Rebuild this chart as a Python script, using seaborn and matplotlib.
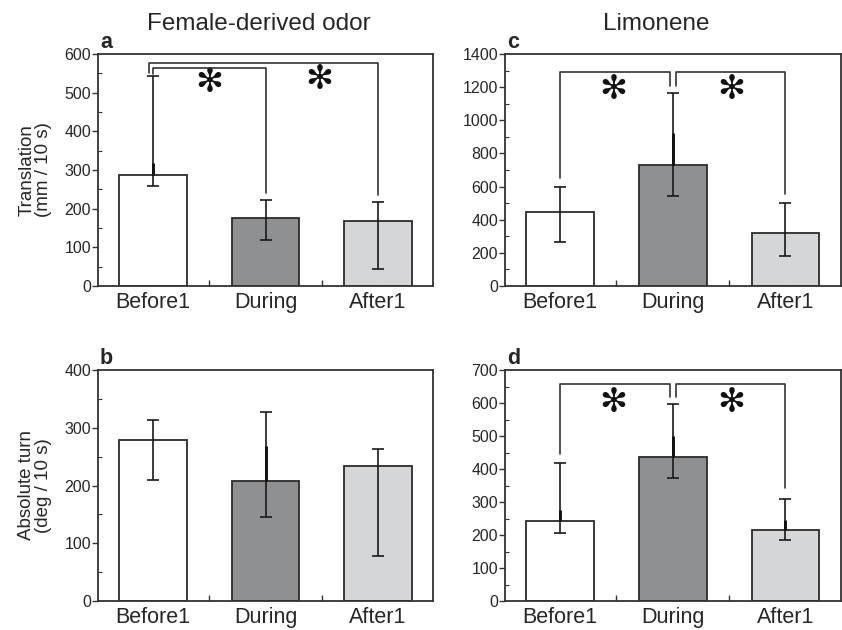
import matplotlib
matplotlib.use("Agg")
import matplotlib.pyplot as plt
import seaborn as sns
import numpy as np
import pandas as pd
from matplotlib.ticker import MultipleLocator

sns.set_theme(style="ticks")
plt.rcParams['font.family'] = ['Liberation Sans', 'DejaVu Sans']

categories = ["Before1", "During", "After1"]
bar_colors = ["#ffffff", "#8f9092", "#d5d6d8"]

# panel a: Translation, female-derived odor
a_vals = [287, 177, 168]
a_low = [259, 120, 43]
a_high = [543, 223, 217]
a_thick = [317, 177, 168]

# panel b: Absolute turn, female-derived odor
b_vals = [279, 207, 233]
b_low = [210, 146, 78]
b_high = [313, 327, 264]
b_thick = [279, 268, 233]

# panel c: Translation, limonene
c_vals = [445, 730, 318]
c_low = [266, 543, 181]
c_high = [600, 1167, 499]
c_thick = [445, 921, 318]

# panel d: Absolute turn, limonene
d_vals = [242, 436, 214]
d_low = [207, 373, 184]
d_high = [417, 597, 309]
d_thick = [277, 499, 244]

W, H = 842, 630
fig = plt.figure(figsize=(W / 100, H / 100), dpi=100)

def rect(l, t, r, b):
    return [l / W, 1 - b / H, (r - l) / W, (b - t) / H]

axa = fig.add_axes(rect(98, 54, 433, 286))
axb = fig.add_axes(rect(98, 370, 433, 601))
axc = fig.add_axes(rect(505, 54, 840.5, 286))
axd = fig.add_axes(rect(505, 370, 840.5, 601))

edge = "#2b2b2b"

def panel(ax, vals, low, high, thick, ymax, major, letter, ylabel=None):
    df = pd.DataFrame({"cond": categories, "val": vals})
    sns.barplot(data=df, x="cond", y="val", hue="cond", palette=bar_colors,
                order=categories, hue_order=categories, width=0.6,
                edgecolor=edge, linewidth=1.3, errorbar=None, legend=False,
                ax=ax, zorder=2)
    x = np.arange(len(categories))
    v = np.array(vals, float)
    ax.errorbar(x, v, yerr=[v - np.array(low), np.array(high) - v], fmt="none",
                ecolor="#1a1a1a", elinewidth=1.2, capsize=4.5, capthick=1.2, zorder=3)
    ax.vlines(x, v, thick, colors="#111111", linewidth=2.1, zorder=3)
    ax.set_xlim(-0.49, 2.49)
    ax.set_ylim(0, ymax)
    ax.yaxis.set_major_locator(MultipleLocator(major))
    ax.yaxis.set_minor_locator(MultipleLocator(major / 2))
    ax.set_xticks([0, 1, 2])
    ax.set_xticks([0.5, 1.5], minor=True)
    ax.set_xticklabels(categories, fontsize=15.5)
    ax.tick_params(axis="x", which="both", direction="in", length=4, width=1,
                   color="#333333", pad=4)
    ax.tick_params(axis="y", which="major", direction="out", length=4, width=1,
                   color="#333333", labelsize=11.5, pad=1)
    ax.tick_params(axis="y", which="minor", direction="in", length=3, width=0.8,
                   color="#333333")
    for s in ax.spines.values():
        s.set_visible(True)
        s.set_color("#333333")
        s.set_linewidth(1.3)
    ax.set_xlabel("")
    if ylabel:
        ax.set_ylabel(ylabel, fontsize=13.5, linespacing=0.95, labelpad=9)
    else:
        ax.set_ylabel("")
    ax.text(0.006, 1.025, letter, transform=ax.transAxes, fontsize=15.5,
            fontweight="bold", ha="left", va="baseline")

panel(axa, a_vals, a_low, a_high, a_thick, 600, 100, "a", "Translation\n(mm / 10 s)")
panel(axb, b_vals, b_low, b_high, b_thick, 400, 100, "b", "Absolute turn\n(deg / 10 s)")
panel(axc, c_vals, c_low, c_high, c_thick, 1400, 200, "c")
panel(axd, d_vals, d_low, d_high, d_thick, 700, 100, "d")

lc = "#333333"
star_kw = dict(ha="center", va="center", fontsize=24, fontweight="bold",
               family=["DejaVu Sans"], color="#111111")

def bracket(ax, x0, x1, ends):
    y_left, y_top, y_right = ends
    ax.plot([x0, x0, x1, x1], [y_left, y_top, y_top, y_right],
            color=lc, lw=1.2, zorder=4)

# panel a brackets (left end, top, right end)
a_outer = [550, 577, 235]
a_inner = [548, 563, 240]
bracket(axa, -0.035, 2, a_outer)
bracket(axa, 0, 1, a_inner)
axa.text(0.5, 525, "\u273b", **star_kw)
axa.text(1.48, 535, "\u273b", **star_kw)

# panel c brackets
c_left = [650, 1290, 1209]
c_right = [1209, 1290, 555]
bracket(axc, 0, 0.975, c_left)
bracket(axc, 1.025, 2, c_right)
axc.text(0.47, 1183, "\u273b", **star_kw)
axc.text(1.52, 1183, "\u273b", **star_kw)

# panel d brackets
d_left = [446, 657, 618]
d_right = [618, 657, 342]
bracket(axd, 0, 0.975, d_left)
bracket(axd, 1.025, 2, d_right)
axd.text(0.47, 603, "\u273b", **star_kw)
axd.text(1.52, 603, "\u273b", **star_kw)

fig.text(259 / W, 1 - 30 / H, "Female-derived odor", fontsize=17.5, ha="center", va="baseline")
fig.text(656 / W, 1 - 30 / H, "Limonene", fontsize=17.5, ha="center", va="baseline")

fig.savefig("out.png", dpi=100)
